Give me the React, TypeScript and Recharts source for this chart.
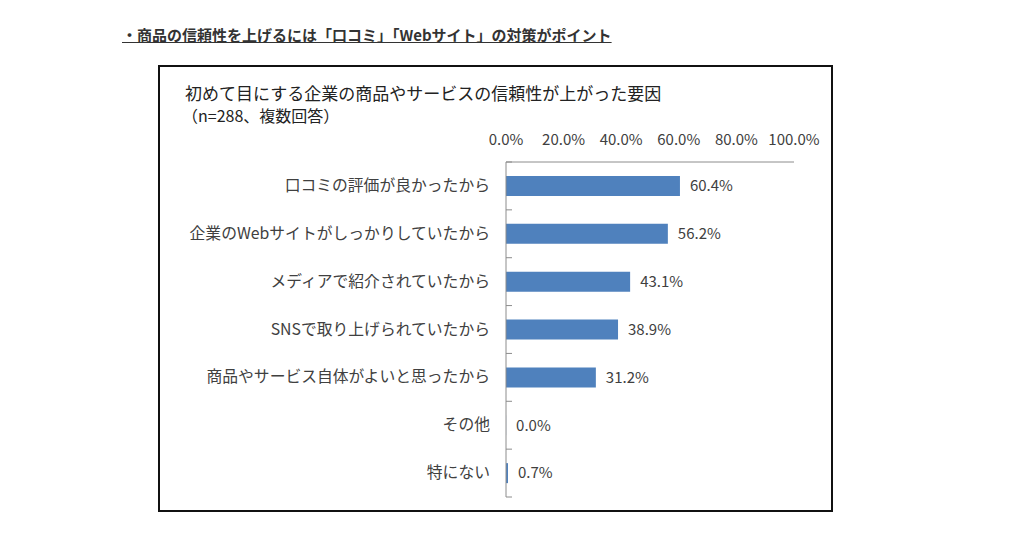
import { BarChart, Bar, XAxis, YAxis, LabelList } from 'recharts'

const categories = [
  '口コミの評価が良かったから',
  '企業のWebサイトがしっかりしていたから',
  'メディアで紹介されていたから',
  'SNSで取り上げられていたから',
  '商品やサービス自体がよいと思ったから',
  'その他',
  '特にない',
]
const values = [60.4, 56.2, 43.1, 38.9, 31.2, 0.0, 0.7]
const xTicks = [0, 20, 40, 60, 80, 100]

const FONT = '"Noto Sans CJK JP", "Noto Sans", sans-serif'
const TEXT = '#404040'
const AXIS = '#8c8c8c'

const data = categories.map((name, i) => ({ name, value: values[i] }))

function CategoryTick(props: any) {
  const { x, y, payload, index } = props
  const half = payload.offset ?? 0
  const ax = x + 16
  return (
    <g>
      <text x={x} y={y} dy={5} textAnchor="end" fill={TEXT} fontSize={15.8} fontFamily={FONT}>
        {payload.value}
      </text>
      {index === 0 && <line x1={ax} y1={y - half} x2={ax + 6} y2={y - half} stroke={AXIS} />}
      <line x1={ax} y1={y + half} x2={ax + 6} y2={y + half} stroke={AXIS} />
    </g>
  )
}

function PercentTick(props: any) {
  const { x, y, payload } = props
  return (
    <text x={x} y={y} dy={-9} textAnchor="middle" fill={TEXT} fontSize={15} fontFamily={FONT}>
      {payload.value.toFixed(1)}%
    </text>
  )
}

export default function App() {
  return (
    <div style={{ position: 'relative', width: 1008, height: 522, fontFamily: FONT }}>
      <div
        style={{
          position: 'absolute',
          left: 114,
          top: 16,
          fontSize: 15,
          fontWeight: 'bold',
          color: '#333',
          textDecoration: 'underline',
          whiteSpace: 'nowrap',
        }}
      >
        ・商品の信頼性を上げるには「口コミ」「Webサイト」の対策がポイント
      </div>
      <div
        style={{
          position: 'absolute',
          left: 150,
          top: 57,
          width: 675,
          height: 447,
          border: '2px solid #111',
          boxSizing: 'border-box',
          background: '#fff',
        }}
      >
        <div style={{ position: 'absolute', left: 25, top: 16, fontSize: 17, color: '#222', whiteSpace: 'nowrap', lineHeight: '20px' }}>
          初めて目にする企業の商品やサービスの信頼性が上がった要因
        </div>
        <div style={{ position: 'absolute', left: 22, top: 38, fontSize: 16, color: '#222', whiteSpace: 'nowrap', lineHeight: '20px' }}>
          （n=288、複数回答）
        </div>
        <div style={{ position: 'absolute', left: 0, top: 0 }}>
          <BarChart
            width={671}
            height={443}
            data={data}
            layout="vertical"
            margin={{ top: 65, right: 37, bottom: 13, left: 0 }}
          >
            <XAxis
              type="number"
              orientation="top"
              domain={[0, 100]}
              ticks={xTicks}
              height={30}
              tickLine={false}
              axisLine={{ stroke: AXIS }}
              tick={<PercentTick />}
              interval={0}
            />
            <YAxis
              type="category"
              dataKey="name"
              width={346}
              tickSize={0}
              tickMargin={16}
              axisLine={{ stroke: AXIS }}
              tickLine={false}
              tick={<CategoryTick />}
              interval={0}
            />
            <Bar dataKey="value" fill="#4f81bd" barSize={20} minPointSize={0.1} isAnimationActive={false}>
              <LabelList
                dataKey="value"
                position="right"
                offset={10}
                fill={TEXT}
                fontSize={15}
                fontFamily={FONT}
                formatter={(v: any) => `${Number(v).toFixed(1)}%`}
              />
            </Bar>
          </BarChart>
        </div>
      </div>
    </div>
  )
}
